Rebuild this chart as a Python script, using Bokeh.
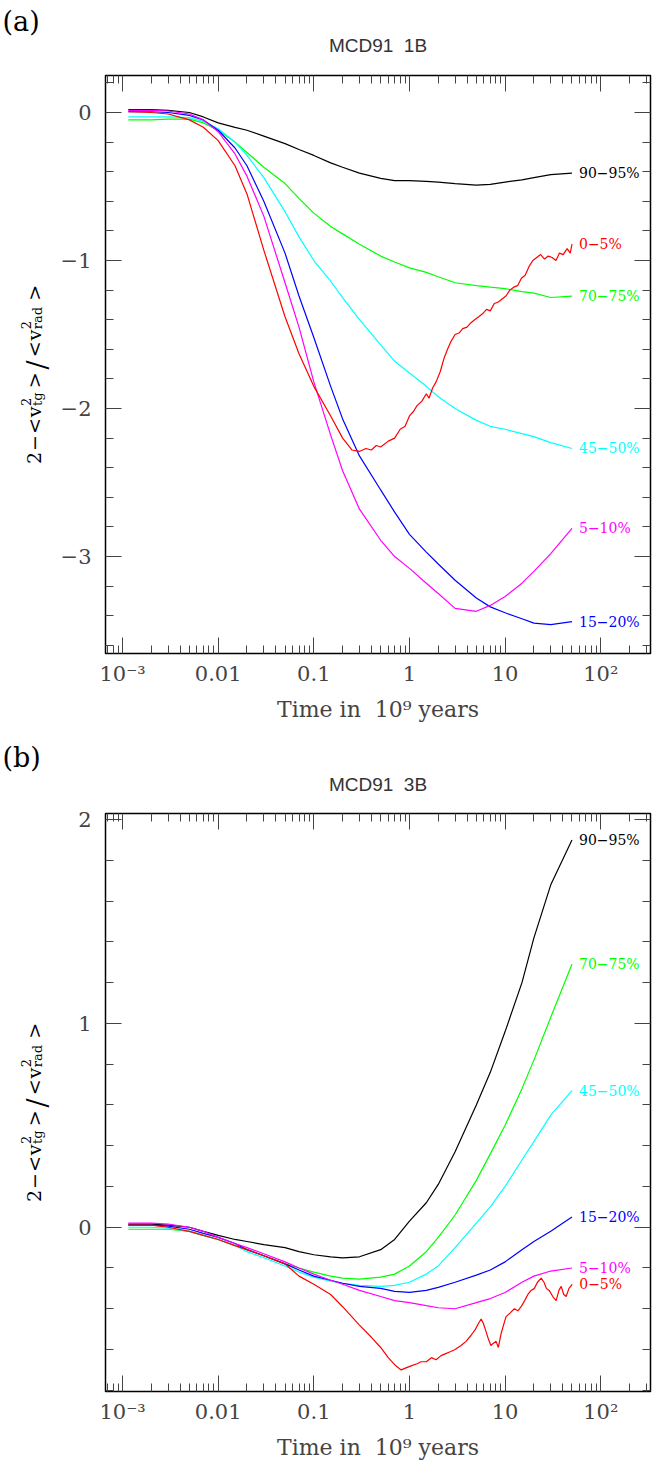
from math import pi
from bokeh.plotting import figure
from bokeh.layouts import column, row
from bokeh.models import Range1d, FixedTicker, LogAxis, LinearAxis, Title
from bokeh.core.properties import value
from bokeh.embed import file_html
from bokeh.resources import INLINE

SERIF = "DejaVu Serif"
SANS = "Liberation Sans"

# ---------------- data ----------------
T = [0.00115, 0.002, 0.003, 0.005, 0.007, 0.01, 0.015, 0.02, 0.03, 0.05, 0.07, 0.1,
     0.15, 0.2, 0.3, 0.5, 0.7, 1, 1.5, 2, 3, 5, 7, 10, 15, 20, 30, 50]

# panel (a) MCD91 1B
a_9095 = [0.02, 0.02, 0.015, 0.0, -0.03, -0.07, -0.10, -0.12, -0.16, -0.21, -0.25, -0.29,
          -0.34, -0.37, -0.41, -0.445, -0.46, -0.46, -0.465, -0.47, -0.48, -0.49, -0.485, -0.47,
          -0.455, -0.44, -0.42, -0.41]
a_7075 = [-0.05, -0.05, -0.045, -0.045, -0.07, -0.12, -0.2, -0.27, -0.37, -0.48, -0.58, -0.68,
          -0.77, -0.82, -0.89, -0.97, -1.01, -1.05, -1.08, -1.11, -1.15, -1.17, -1.18, -1.19,
          -1.21, -1.22, -1.25, -1.24]
a_4550 = [-0.03, -0.03, -0.03, -0.035, -0.06, -0.11, -0.2, -0.29, -0.44, -0.67, -0.84, -1.0,
          -1.14, -1.25, -1.4, -1.57, -1.68, -1.76, -1.85, -1.92, -2.0, -2.08, -2.12, -2.14,
          -2.17, -2.19, -2.23, -2.27]
a_1520 = [0.005, 0.005, 0.0, -0.02, -0.05, -0.12, -0.24, -0.36, -0.6, -0.95, -1.24, -1.52,
          -1.85, -2.07, -2.32, -2.55, -2.7, -2.85, -2.97, -3.05, -3.16, -3.28, -3.34, -3.38,
          -3.42, -3.45, -3.46, -3.44]
a_0510 = [0.015, 0.015, 0.01, -0.01, -0.05, -0.13, -0.28, -0.43, -0.7, -1.15, -1.45, -1.82,
          -2.18, -2.42, -2.68, -2.89, -3.0, -3.08, -3.18, -3.25, -3.35, -3.37, -3.33, -3.27,
          -3.18, -3.1, -2.98, -2.81]
a_0005_t = [0.00115, 0.002, 0.003, 0.005, 0.007, 0.01, 0.015, 0.02, 0.03, 0.05, 0.07, 0.1,
            0.15, 0.2, 0.25, 0.3, 0.35, 0.4, 0.45, 0.5, 0.6, 0.7, 0.8, 0.9, 1.0, 1.1, 1.2,
            1.35, 1.5, 1.6, 1.75, 1.9, 2.1, 2.3, 2.5, 2.7, 3.0, 3.3, 3.6, 4.0, 4.4, 4.8, 5.3,
            5.8, 6.4, 7.0, 7.7, 8.5, 9.3, 10.2, 11.2, 12.3, 13.5, 14.8, 16.2, 17.8, 19.5,
            21.4, 23.5, 25.8, 28.3, 31, 34, 37, 40.5, 44.5, 48, 50]
a_0005 = [0.005, 0.0, -0.01, -0.05, -0.1, -0.19, -0.36, -0.55, -0.93, -1.38, -1.63, -1.85,
          -2.05, -2.2, -2.28, -2.29, -2.27, -2.28, -2.25, -2.26, -2.22, -2.2, -2.14, -2.12,
          -2.05, -2.02, -1.98, -1.95, -1.9, -1.93, -1.86, -1.82, -1.75, -1.66, -1.6, -1.55,
          -1.5, -1.49, -1.46, -1.45, -1.42, -1.40, -1.38, -1.36, -1.33, -1.34, -1.29, -1.28,
          -1.26, -1.24, -1.2, -1.18, -1.17, -1.12, -1.1, -1.04, -1.0, -0.98, -0.96, -0.99,
          -0.97, -0.98, -1.0, -0.95, -0.96, -0.92, -0.95, -0.89]

# panel (b) MCD91 3B
b_9095 = [0.015, 0.015, 0.01, 0.0, -0.02, -0.04, -0.06, -0.07, -0.085, -0.1, -0.12, -0.135,
          -0.145, -0.15, -0.145, -0.11, -0.06, 0.03, 0.12, 0.21, 0.37, 0.6, 0.76, 0.96, 1.2,
          1.42, 1.68, 1.9]
b_7075 = [-0.01, -0.01, -0.01, -0.02, -0.04, -0.06, -0.09, -0.11, -0.14, -0.18, -0.2, -0.22,
          -0.24, -0.25, -0.255, -0.245, -0.23, -0.19, -0.12, -0.05, 0.06, 0.23, 0.36, 0.5,
          0.68, 0.82, 1.03, 1.29]
b_4550 = [0.0, 0.0, -0.005, -0.02, -0.04, -0.06, -0.09, -0.12, -0.15, -0.19, -0.22, -0.245,
          -0.265, -0.275, -0.285, -0.29, -0.285, -0.27, -0.23, -0.19, -0.1, 0.02, 0.1, 0.2,
          0.33, 0.42, 0.55, 0.67]
b_1520 = [0.01, 0.01, 0.005, -0.01, -0.03, -0.05, -0.08, -0.11, -0.14, -0.18, -0.21, -0.24,
          -0.26, -0.275, -0.29, -0.3, -0.315, -0.32, -0.31, -0.295, -0.27, -0.235, -0.21,
          -0.17, -0.11, -0.07, -0.02, 0.05]
b_0510 = [0.02, 0.02, 0.015, 0.0, -0.02, -0.05, -0.08, -0.1, -0.13, -0.17, -0.2, -0.23,
          -0.26, -0.28, -0.31, -0.34, -0.36, -0.37, -0.385, -0.395, -0.4, -0.37, -0.35, -0.32,
          -0.27, -0.24, -0.215, -0.2]
b_0005_t = [0.00115, 0.002, 0.003, 0.005, 0.007, 0.01, 0.015, 0.02, 0.03, 0.05, 0.07, 0.1,
            0.15, 0.2, 0.3, 0.4, 0.5, 0.6, 0.72, 0.82, 0.92, 1.04, 1.2, 1.32, 1.5, 1.7, 1.9,
            2.14, 2.4, 2.7, 3.0, 3.46, 3.9, 4.41, 4.9, 5.3, 5.61, 5.9, 6.3, 6.7, 7.1, 7.5,
            8.05, 8.5, 9.1, 10.2, 11.3, 12.5, 13.6, 14.7, 16, 17.3, 18.7, 20.2, 21.8, 23.8,
            25.5, 27, 28.9, 31.5, 34.2, 36.5, 38.6, 41, 43.5, 46.5, 50.3]
b_0005 = [0.01, 0.01, 0.0, -0.02, -0.04, -0.06, -0.09, -0.11, -0.14, -0.18, -0.24, -0.28,
          -0.33, -0.39, -0.48, -0.54, -0.59, -0.64, -0.68, -0.7, -0.69, -0.68, -0.67, -0.66,
          -0.66, -0.64, -0.65, -0.63, -0.62, -0.61, -0.6, -0.58, -0.56, -0.53, -0.5, -0.47,
          -0.45, -0.47, -0.51, -0.55, -0.58, -0.57, -0.56, -0.59, -0.52, -0.44, -0.42, -0.4,
          -0.41, -0.39, -0.36, -0.33, -0.31, -0.3, -0.27, -0.25, -0.27, -0.3, -0.31, -0.34,
          -0.36, -0.31, -0.29, -0.33, -0.34, -0.3, -0.28]

series_names = ["90−95%", "70−75%", "45−50%", "15−20%", "5−10%", "0−5%"]
series_colors = ["#000000", "#00ff00", "#00ffff", "#0000ff", "#ff00ff", "#ff0000"]

x_major = [0.001, 0.01, 0.1, 1, 10, 100]
x_labels = ["10⁻³", "0.01", "0.1", "1", "10", "10²"]
ya_major = [-3, -2, -1, 0]
ya_labels = ["−3", "−2", "−1", "0"]
yb_major = [0, 1, 2]
yb_labels = ["0", "1", "2"]

X_LO, X_HI = 10 ** -3.178, 10 ** 2.52
x_minor = [k * 10.0 ** d for d in range(-4, 3) for k in range(2, 10)
           if X_LO <= k * 10.0 ** d <= X_HI]

FRAME_H = 578
LAB_W = 52


def minor_lin(lo, hi, step=0.2):
    out, v = [], round(lo / step) * step
    while v <= hi + 1e-9:
        if abs(v - round(v)) > 1e-6:
            out.append(round(v, 3))
        v += step
    return out


def label_strip(height, top_b, bottom, letter, spacer_standoff, letter_standoff):
    """Narrow figure (frame aligned with the panel's frame) holding the panel
    letter and the rotated y-axis label; y in pixels above the frame bottom."""
    s = figure(width=LAB_W, height=height, x_range=Range1d(0, LAB_W), y_range=Range1d(0, FRAME_H),
               x_axis_location=None, y_axis_location=None, output_backend="svg",
               toolbar_location=None, min_border_left=0, min_border_right=0,
               min_border_top=top_b, min_border_bottom=bottom)
    s.outline_line_color = None
    s.grid.visible = False
    # spacer panel next to the frame (white on white), then the panel letter outside it
    s.add_layout(Title(text="\u00a0", text_font_size="1px", text_color="white",
                       standoff=spacer_standoff), "above")
    s.add_layout(Title(text=letter, align="left", offset=2, text_font=SERIF,
                       text_font_size="27px", text_font_style="normal", text_color="black",
                       standoff=letter_standoff), "above")

    F, f = 19, 13
    W = {'2': 0.636, '−': 0.838, '<': 0.838, '>': 0.838, 'v': 0.592, '/': 0.337,
         't': 0.402, 'g': 0.64, 'r': 0.478, 'a': 0.596, 'd': 0.64}
    seq = [("t", "2", F, 0), ("g", 1), ("t", "−", F, 0), ("g", 1), ("t", "<", F, 0),
           ("g", 1), ("t", "v", F, 0), ("p", "2", "tg"), ("g", 4), ("t", ">", F, 0),
           ("g", 3), ("t", "/", 27, -4), ("g", 3), ("t", "<", F, 0), ("g", 1),
           ("t", "v", F, 0), ("p", "2", "rad"), ("g", 6), ("t", ">", F, 0)]
    total = 0
    for sq in seq:
        if sq[0] == "g":
            total += sq[1]
        elif sq[0] == "t":
            total += sum(W[c] for c in sq[1]) * sq[2]
        else:
            total += max(sum(W[c] for c in sq[1]), sum(W[c] for c in sq[2])) * f
    centre = FRAME_H / 2 - 10
    pos = centre - total / 2
    xs, ys, txt, sizes = [], [], [], []
    base_x = 33

    def put(t, size, shift, pos):
        xs.append(base_x - shift)
        ys.append(pos)
        txt.append(t)
        sizes.append(f"{size}px")

    for sq in seq:
        if sq[0] == "g":
            pos += sq[1]
        elif sq[0] == "t":
            put(sq[1], sq[2], sq[3], pos)
            pos += sum(W[c] for c in sq[1]) * sq[2]
        else:
            put(sq[1], f, 8, pos)
            put(sq[2], f, -4, pos)
            pos += max(sum(W[c] for c in sq[1]), sum(W[c] for c in sq[2])) * f
    s.text(x=xs, y=ys, text=txt, text_font_size=sizes, angle=pi / 2,
           text_font=value(SERIF), text_align="left", text_baseline="alphabetic",
           text_color="black")
    return s


def panel(title, curves, y_lo, y_hi, y_major, y_labels, height, top_b, bottom, title_standoff):
    p = figure(width=652 - LAB_W, height=height, x_axis_type="log",
               x_range=Range1d(X_LO, X_HI), y_range=Range1d(y_lo, y_hi),
               output_backend="svg", toolbar_location=None,
               min_border_left=105 - LAB_W, min_border_right=2, min_border_top=top_b,
               min_border_bottom=bottom)
    p.grid.visible = False
    p.background_fill_color = "white"
    p.border_fill_color = "white"
    p.outline_line_color = "black"
    p.outline_line_width = 1.5

    xt = FixedTicker(ticks=x_major, minor_ticks=x_minor)
    yt = FixedTicker(ticks=y_major, minor_ticks=minor_lin(y_lo, y_hi))

    xa = p.xaxis[0]
    xa.ticker = xt
    xa.major_label_overrides = dict(zip(x_major, x_labels))
    xa.axis_label = "Time in\u00a0 10⁹ years"
    xa.axis_label_text_font = SERIF
    xa.axis_label_text_font_size = "22px"
    xa.axis_label_text_font_style = "normal"
    xa.axis_label_standoff = 8
    xa.major_label_text_font = SERIF
    xa.major_label_text_font_size = "21px"
    xa.major_label_standoff = 8

    ya = p.yaxis[0]
    ya.ticker = yt
    ya.major_label_overrides = dict(zip(y_major, y_labels))
    ya.major_label_text_font = SERIF
    ya.major_label_text_font_size = "21px"
    ya.major_label_standoff = 14
    ya.major_label_orientation = "horizontal"

    top = LogAxis(ticker=xt, major_label_text_font_size="2px", major_label_standoff=0,
                  major_label_text_color=None)
    right = LinearAxis(ticker=yt, major_label_text_font_size="2px", major_label_standoff=0,
                       major_label_text_color=None)
    p.add_layout(top, "above")
    p.add_layout(right, "right")
    p.add_layout(Title(text=title, align="center", text_font=SANS, text_font_size="19px",
                       text_font_style="normal", text_color="#333333",
                       standoff=title_standoff), "above")

    for ax in (xa, ya, top, right):
        ax.axis_line_color = None
        ax.major_tick_in = 16
        ax.major_tick_out = 0
        ax.minor_tick_in = 8
        ax.minor_tick_out = 0
        ax.major_tick_line_color = "#444444"
        ax.minor_tick_line_color = "#444444"
        ax.major_tick_line_width = 1
        ax.minor_tick_line_width = 1

    for (tx, ys), name, col in zip(curves, series_names, series_colors):
        p.line(tx, ys, line_color=col, line_width=1.2)
        p.text(x=[tx[-1]], y=[ys[-1]], text=[name], text_color=col,
               text_font=value(SERIF), text_font_size="14px",
               text_baseline="middle", text_align="left", x_offset=7)
    return p


pa = panel("MCD91\u00a0 1B",
           [(T, a_9095), (T, a_7075), (T, a_4550), (T, a_1520), (T, a_0510), (a_0005_t, a_0005)],
           -3.655, 0.25, ya_major, ya_labels, 732, 75, 79, 40)
pb = panel("MCD91\u00a0 3B",
           [(T, b_9095), (T, b_7075), (T, b_4550), (T, b_1520), (T, b_0510), (b_0005_t, b_0005)],
           -0.806, 2.03, yb_major, yb_labels, 733, 81, 74, 38)
sa = label_strip(732, 75, 79, "(a)", 35, 2)
sb = label_strip(733, 81, 74, "(b)", 36, 4)

layout = column(row(sa, pa, spacing=0), row(sb, pb, spacing=0), spacing=0)
open("out.html", "w").write(file_html(layout, INLINE))
